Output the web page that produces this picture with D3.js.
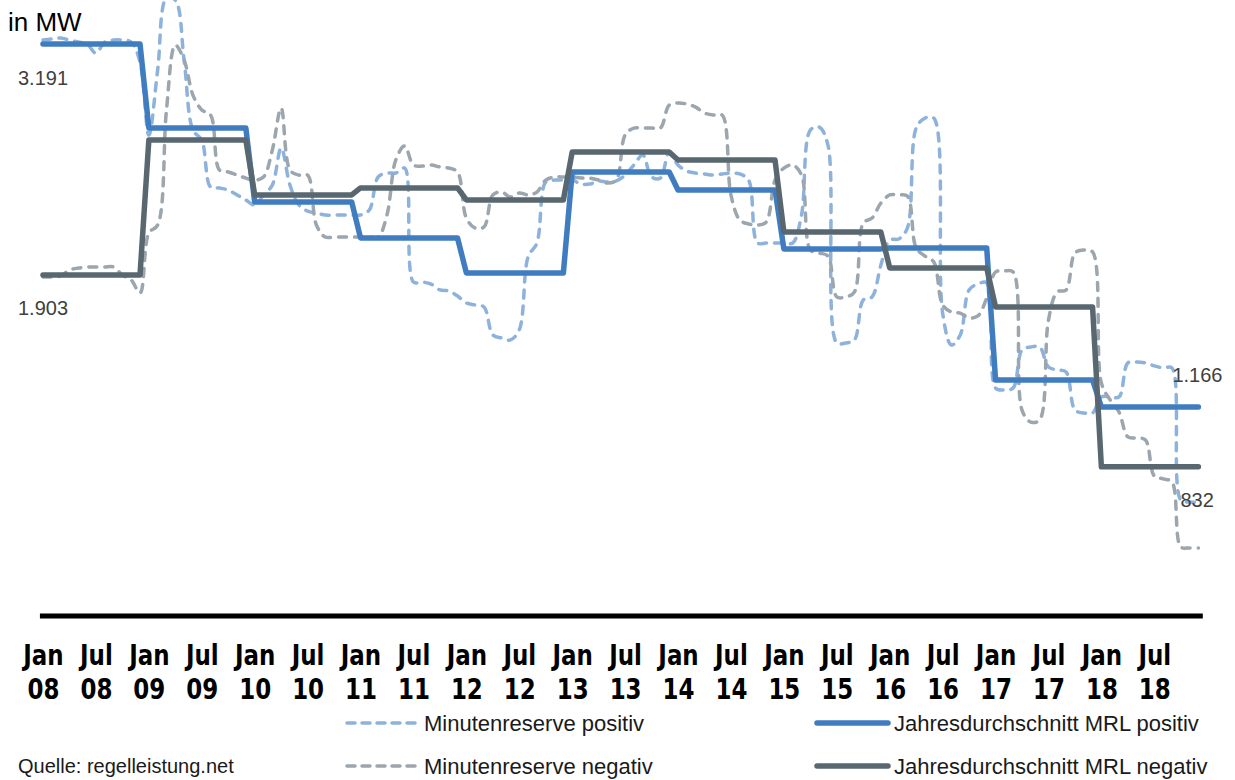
<!DOCTYPE html>
<html>
<head>
<meta charset="utf-8">
<!-- D3.js v7 -->
<script src="https://d3js.org/d3.v7.min.js"></script>
<style>
    body { margin: 0; background: #ffffff; }
    text { font-family: "Liberation Sans", Arial, sans-serif; }
    .tick-label { font-family: "Liberation Sans Narrow", "DejaVu Sans Condensed", sans-serif; font-weight: bold; font-size: 29px; fill: #000; }
    .value-label { font-size: 20px; fill: #404040; }
    .legend-label { font-size: 22px; fill: #1a1a1a; }
</style>
</head>
<body>
<svg width="1235" height="780"></svg>
<script>
    // x-axis labels (every 6 months)
    const tickLabels = ["Jan 08", "Jul 08", "Jan 09", "Jul 09", "Jan 10", "Jul 10", "Jan 11", "Jul 11",
        "Jan 12", "Jul 12", "Jan 13", "Jul 13", "Jan 14", "Jul 14", "Jan 15", "Jul 15",
        "Jan 16", "Jul 16", "Jan 17", "Jul 17", "Jan 18", "Jul 18"];

    const years = [2008, 2009, 2010, 2011, 2012, 2013, 2014, 2015, 2016, 2017, 2018];

    // annual averages (MW)
    const avgPositive = [3191, 2722, 2310, 2109, 1914, 2477, 2377, 2048, 2053, 1317, 1166];
    const avgNegative = [1903, 2655, 2349, 2388, 2321, 2589, 2544, 2142, 1942, 1724, 832];

    // monthly Minutenreserve positiv (MW), Jan 2008 - Dec 2018
    const mrlPositive = [
        3213, 3219, 3224, 3213, 3202, 3191, 3140, 3202, 3213, 3213, 3202, 3090,
        2683, 3046, 3447, 3436, 3101, 2711, 2655, 2393, 2388, 2376, 2349, 2321,
        2293, 2349, 2404, 2611, 2404, 2293, 2259, 2248, 2237, 2237, 2237, 2237,
        2237, 2265, 2449, 2471, 2471, 2499, 1863, 1863, 1852, 1819, 1813, 1785,
        1746, 1735, 1724, 1568, 1551, 1540, 1596, 2003, 2081, 2421, 2432, 2432,
        2432, 2410, 2410, 2427, 2421, 2427, 2460, 2516, 2572, 2449, 2443, 2588,
        2516, 2482, 2471, 2466, 2460, 2466, 2471, 2466, 2432, 2081, 2081, 2081,
        2081, 2081, 2237, 2711, 2728, 2627, 1523, 1523, 1540, 1763, 1780, 1958,
        2098, 2103, 2164, 2722, 2778, 2778, 1690, 1512, 1568, 1819, 1852, 1858,
        1272, 1261, 1272, 1484, 1501, 1501, 1389, 1373, 1361, 1149, 1133, 1133,
        1222, 1222, 1222, 1412, 1417, 1412, 1395, 1384, 1384, 647, 636, 636
    ];

    // monthly Minutenreserve negativ (MW)
    const mrlNegative = [
        1891, 1891, 1897, 1930, 1941, 1947, 1947, 1947, 1947, 1902, 1874, 1802,
        2137, 2181, 2823, 3185, 3101, 2906, 2823, 2795, 2488, 2477, 2460, 2443,
        2432, 2449, 2599, 2834, 2488, 2460, 2460, 2181, 2114, 2114, 2114, 2114,
        2114, 2114, 2114, 2237, 2544, 2622, 2516, 2510, 2516, 2505, 2499, 2477,
        2220, 2164, 2170, 2349, 2365, 2337, 2360, 2349, 2365, 2432, 2449, 2449,
        2449, 2443, 2443, 2432, 2415, 2432, 2683, 2722, 2722, 2722, 2722, 2850,
        2862, 2856, 2839, 2806, 2795, 2795, 2349, 2209, 2187, 2181, 2198, 2432,
        2499, 2516, 2460, 2042, 2025, 2008, 1780, 1780, 1808, 2192, 2220, 2304,
        2349, 2349, 2343, 2053, 2008, 1975, 1735, 1696, 1690, 1663, 1674, 1774,
        1919, 1925, 1919, 1149, 1082, 1094, 1651, 1808, 1819, 2025, 2042, 2031,
        1300, 1205, 1138, 999, 993, 982, 781, 765, 748, 385, 380, 380
    ];

    const colors = {
        posDash: "#8db2dc",
        negDash: "#9ba6ae",
        posAvg: "#407cc0",
        negAvg: "#596870"
    };

    const svg = d3.select("svg");

    // scales: month index -> x, MW -> y
    const x = d3.scaleLinear().domain([0, mrlPositive.length - 1]).range([43, 1198.4]);
    const y = d3.scaleLinear().domain([0, 3500]).range([616, 616 - 3500 * 572 / 3191]);

    // German number format (3.191)
    const de = d3.formatLocale({ decimal: ",", thousands: ".", grouping: [3], currency: ["", " €"] });
    const fmt = de.format(",d");

    // monthly series -> points
    const monthly = arr => arr.map((v, i) => ({ m: i, v: v }));
    // annual averages -> flat segment Jan..Dec per year
    const yearly = arr => years.flatMap((yr, i) => [{ m: i * 12, v: arr[i] }, { m: i * 12 + 11, v: arr[i] }]);

    const smooth = d3.line().x(d => x(d.m)).y(d => y(d.v)).curve(d3.curveCatmullRom.alpha(0.5));
    const straight = d3.line().x(d => x(d.m)).y(d => y(d.v));

    // dashed monthly lines
    svg.append("path")
        .attr("d", smooth(monthly(mrlPositive)))
        .attr("fill", "none")
        .attr("stroke", colors.posDash)
        .attr("stroke-width", 3.5)
        .attr("stroke-dasharray", "8,8")
        .attr("stroke-linecap", "round");

    svg.append("path")
        .attr("d", smooth(monthly(mrlNegative)))
        .attr("fill", "none")
        .attr("stroke", colors.negDash)
        .attr("stroke-width", 3.5)
        .attr("stroke-dasharray", "8,8")
        .attr("stroke-linecap", "round");

    // annual average lines
    svg.append("path")
        .attr("d", straight(yearly(avgPositive)))
        .attr("fill", "none")
        .attr("stroke", colors.posAvg)
        .attr("stroke-width", 5.5)
        .attr("stroke-linejoin", "round")
        .attr("stroke-linecap", "round");

    svg.append("path")
        .attr("d", straight(yearly(avgNegative)))
        .attr("fill", "none")
        .attr("stroke", colors.negAvg)
        .attr("stroke-width", 5.5)
        .attr("stroke-linejoin", "round")
        .attr("stroke-linecap", "round");

    // value labels at both ends
    const last = years.length - 1;
    const lastM = mrlPositive.length - 1;
    svg.append("text").attr("class", "value-label")
        .attr("x", x(0) - 25).attr("y", y(avgPositive[0]) + 41).text(fmt(avgPositive[0]));
    svg.append("text").attr("class", "value-label")
        .attr("x", x(0) - 25).attr("y", y(avgNegative[0]) + 40).text(fmt(avgNegative[0]));
    svg.append("text").attr("class", "value-label")
        .attr("x", x(lastM) - 26).attr("y", y(avgPositive[last]) - 25).text(fmt(avgPositive[last]));
    svg.append("text").attr("class", "value-label")
        .attr("x", x(lastM) - 18).attr("y", y(avgNegative[last]) + 40).text(fmt(avgNegative[last]));

    // unit label
    svg.append("text")
        .attr("x", 8).attr("y", 31)
        .attr("font-size", 26).attr("fill", "#000")
        .text("in MW");

    // x axis
    const xAxis = svg.append("g")
        .attr("transform", `translate(0,${y(0)})`)
        .call(d3.axisBottom(x).tickValues(d3.range(0, mrlPositive.length, 6)).tickSize(0).tickFormat(""));
    xAxis.select(".domain").remove();

    // two-line labels, squeezed a little to match the condensed face
    xAxis.selectAll(".tick text")
        .attr("class", "tick-label")
        .attr("y", null).attr("dy", null)
        .attr("transform", "scale(0.88,1)")
        .each(function (d, i) {
            const parts = tickLabels[i].split(" ");
            const t = d3.select(this);
            t.append("tspan").attr("x", 0).attr("y", 49).text(parts[0]);
            t.append("tspan").attr("x", 0).attr("y", 83).text(parts[1]);
        });

    // thick baseline
    svg.append("line")
        .attr("x1", x(-0.35)).attr("x2", x(lastM + 0.5))
        .attr("y1", y(0)).attr("y2", y(0))
        .attr("stroke", "#000")
        .attr("stroke-width", 5);

    // legend
    const legendItems = [
        { label: "Minutenreserve positiv", color: colors.posDash, dash: true, lx: 345, ly: 723 },
        { label: "Minutenreserve negativ", color: colors.negDash, dash: true, lx: 345, ly: 766 },
        { label: "Jahresdurchschnitt MRL positiv", color: colors.posAvg, dash: false, lx: 815, ly: 723 },
        { label: "Jahresdurchschnitt MRL negativ", color: colors.negAvg, dash: false, lx: 815, ly: 766 }
    ];

    const legend = svg.append("g")
        .selectAll("g")
        .data(legendItems)
        .join("g")
        .attr("transform", d => `translate(${d.lx},${d.ly})`);

    legend.append("line")
        .attr("x1", 2).attr("x2", 73)
        .attr("stroke", d => d.color)
        .attr("stroke-width", d => d.dash ? 3.5 : 5.5)
        .attr("stroke-dasharray", d => d.dash ? "8,7" : null)
        .attr("stroke-linecap", "round");

    legend.append("text")
        .attr("class", "legend-label")
        .attr("x", 79)
        .attr("y", 8)
        .text(d => d.label);

    // source
    svg.append("text")
        .attr("x", 18).attr("y", 773)
        .attr("font-size", 20).attr("fill", "#1a1a1a")
        .text("Quelle: regelleistung.net");
</script>
</body>
</html>
